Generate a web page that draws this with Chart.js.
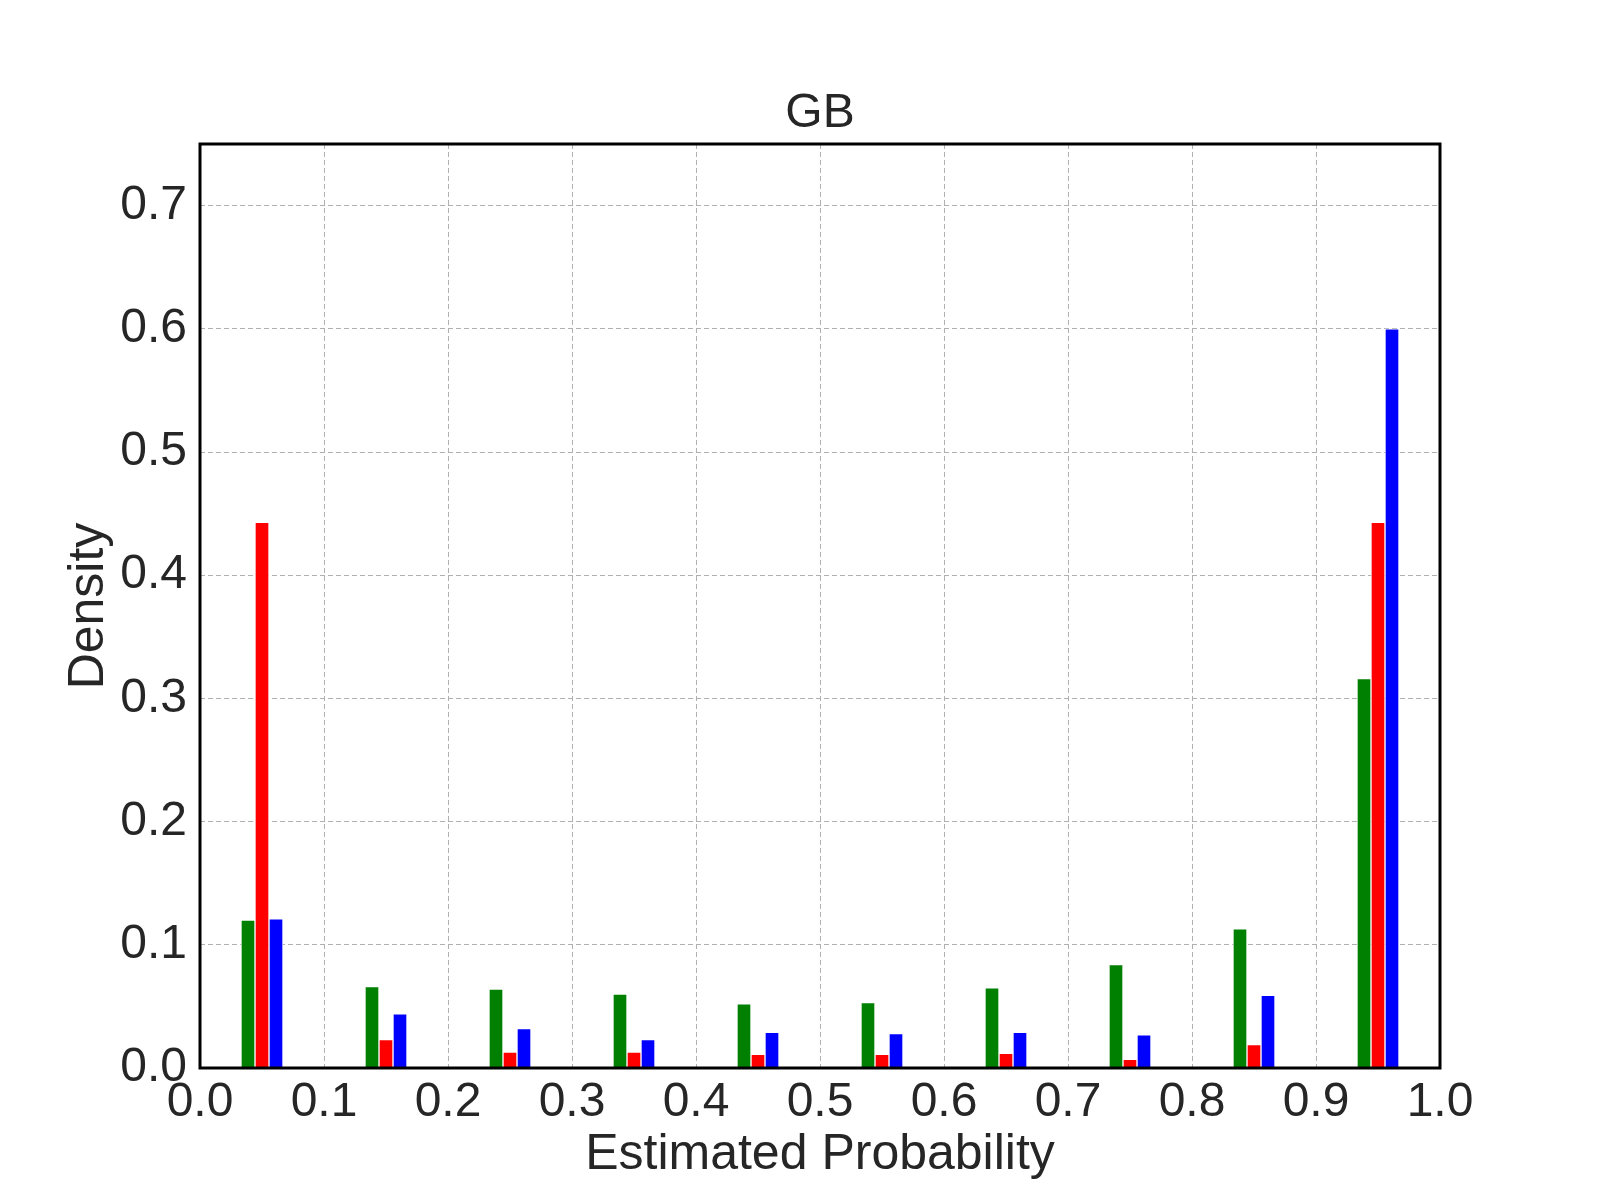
<!DOCTYPE html>
<html>
<head>
<meta charset="utf-8">
<script src="https://cdn.jsdelivr.net/npm/chart.js@4/dist/chart.umd.min.js"></script>
<style>
  html, body { margin: 0; padding: 0; background: #ffffff; }
  #wrap { width: 1600px; height: 1200px; }
</style>
</head>
<body>
<div id="wrap"><canvas id="c" width="1600" height="1200"></canvas></div>
<script>
// ---- Data ----
const chartTitle = "GB";
const xAxisLabel = "Estimated Probability";
const yAxisLabel = "Density";
const binCenters = [0.05, 0.15, 0.25, 0.35, 0.45, 0.55, 0.65, 0.75, 0.85, 0.95];
const greenValues = [0.120, 0.066, 0.064, 0.060, 0.052, 0.053, 0.065, 0.084, 0.113, 0.316];
const redValues   = [0.443, 0.023, 0.013, 0.013, 0.011, 0.011, 0.012, 0.007, 0.019, 0.443];
const blueValues  = [0.121, 0.044, 0.032, 0.023, 0.029, 0.028, 0.029, 0.027, 0.059, 0.600];
const xTickValues = [0.0, 0.1, 0.2, 0.3, 0.4, 0.5, 0.6, 0.7, 0.8, 0.9, 1.0];
const yTickValues = [0.0, 0.1, 0.2, 0.3, 0.4, 0.5, 0.6, 0.7];

const TEXT = '#262626';
const FONT = '"Liberation Sans", Arial, sans-serif';

function toPoints(vals) { return binCenters.map((x, i) => ({ x: x, y: vals[i] })); }

const framePlugin = {
  id: 'frame',
  afterDatasetsDraw(chart) {
    const a = chart.chartArea, ctx = chart.ctx;
    ctx.save();
    ctx.strokeStyle = '#000000';
    ctx.lineWidth = 3;
    ctx.strokeRect(a.left, a.top, a.right - a.left, a.bottom - a.top);
    ctx.restore();
  }
};

const barCommon = { barThickness: 14, borderWidth: 1, borderColor: 'rgba(255,255,255,0.75)', borderSkipped: 'start' };

new Chart(document.getElementById('c'), {
  type: 'bar',
  data: {
    datasets: [
      Object.assign({ label: 'green', data: toPoints(greenValues), backgroundColor: '#008000' }, barCommon),
      Object.assign({ label: 'red', data: toPoints(redValues), backgroundColor: '#ff0000' }, barCommon),
      Object.assign({ label: 'blue', data: toPoints(blueValues), backgroundColor: '#0000ff' }, barCommon)
    ]
  },
  plugins: [framePlugin],
  options: {
    responsive: false,
    animation: false,
    layout: { padding: { left: 0, right: 160, top: 0, bottom: 0 } },
    plugins: {
      legend: { display: false },
      tooltip: { enabled: false },
      title: {
        display: true,
        text: chartTitle,
        fullSize: false,
        color: TEXT,
        font: { family: FONT, size: 48, weight: 'normal' },
        padding: { top: 85, bottom: 1.4 }
      }
    },
    scales: {
      x: {
        type: 'linear',
        min: 0, max: 1,
        offset: false,
        afterBuildTicks: s => { s.ticks = xTickValues.map(v => ({ value: v })); },
        afterFit: s => { s.height = 132; },
        ticks: {
          color: TEXT,
          font: { family: FONT, size: 48 },
          padding: 6,
          maxRotation: 0,
          autoSkip: false,
          callback: v => Number(v).toFixed(1)
        },
        grid: { color: '#b0b0b0', lineWidth: 1, drawTicks: false, offset: false },
        border: { display: false, dash: [5, 3] },
        title: {
          display: true, text: xAxisLabel, color: TEXT,
          font: { family: FONT, size: 50 },
          padding: { top: 0, bottom: 15 }
        }
      },
      y: {
        type: 'linear',
        min: 0, max: 0.75,
        afterBuildTicks: s => { s.ticks = yTickValues.map(v => ({ value: v })); },
        afterFit: s => { s.width = 200; },
        ticks: {
          color: TEXT,
          font: { family: FONT, size: 48 },
          padding: 13,
          callback: v => Number(v).toFixed(1)
        },
        grid: { color: '#b0b0b0', lineWidth: 1, drawTicks: false },
        border: { display: false, dash: [5, 3] },
        title: {
          display: true, text: yAxisLabel, color: TEXT,
          font: { family: FONT, size: 50 },
          padding: { top: 59, bottom: 0 }
        }
      }
    }
  }
});
</script>
</body>
</html>
